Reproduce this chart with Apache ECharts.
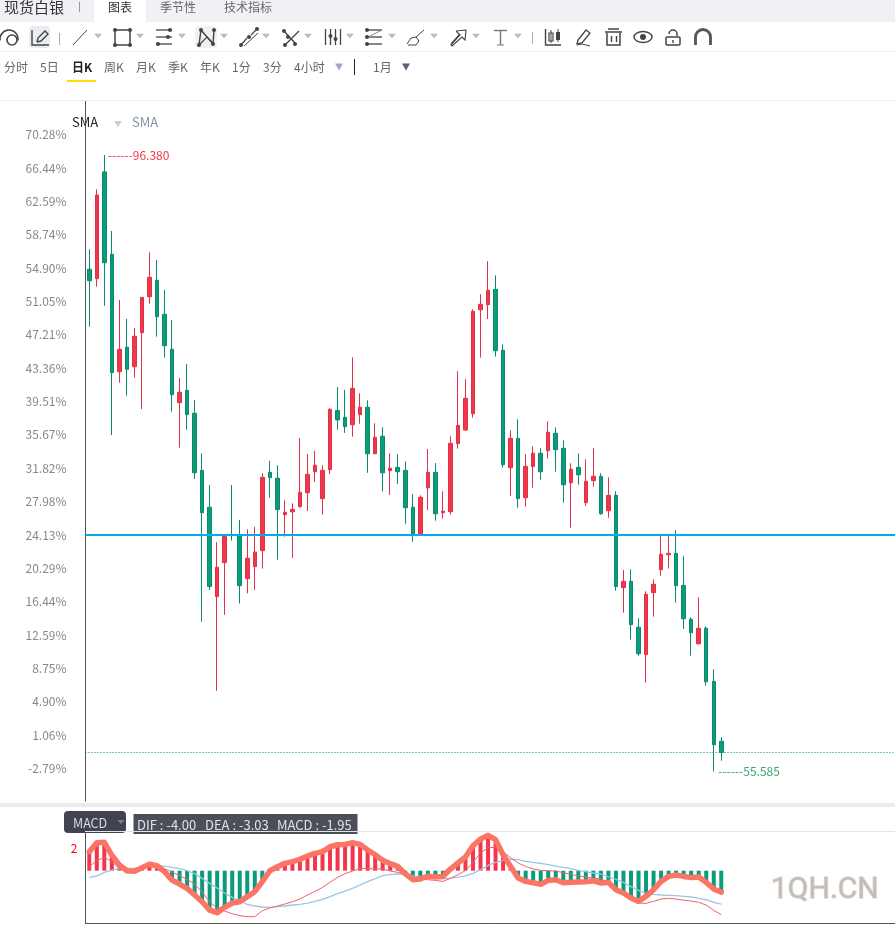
<!DOCTYPE html>
<html>
<head>
<meta charset="utf-8">
<title>现货白银</title>
<style>
  html, body { margin: 0; padding: 0; background: #fff; }
  #chart { width: 895px; height: 926px; }
</style>
<script src="https://cdn.jsdelivr.net/npm/echarts@6/dist/echarts.min.js"></script>
</head>
<body>
<div id="chart"></div>
<script>
// Daily candles: open, close, low, high
const opens = [88.82,88.20,95.26,89.81,82.04,83.66,82.37,84.62,87.00,88.09,85.84,83.52,79.99,80.81,79.29,75.51,73.07,67.16,69.41,71.26,71.18,68.35,69.14,70.20,75.38,74.99,72.58,72.77,73.11,74.03,75.42,73.64,75.56,79.48,79.02,78.53,79.20,79.69,76.61,77.77,75.49,75.71,75.51,73.07,71.24,74.36,75.38,72.71,72.78,77.28,78.18,79.26,86.14,86.47,87.49,83.46,75.69,77.63,73.70,75.76,76.64,76.81,77.97,76.97,74.69,75.71,73.37,74.83,75.12,72.84,73.86,67.75,68.17,65.13,63.32,67.42,68.94,69.93,70.02,67.90,65.66,64.04,65.06,61.55,57.58];
const closes = [88.06,93.73,89.25,81.98,83.52,82.20,84.38,86.96,88.29,85.68,83.76,80.52,80.68,79.20,75.35,72.71,67.82,69.10,71.18,71.21,67.88,69.70,70.10,75.05,75.03,72.91,72.74,72.93,74.06,75.25,75.85,75.51,79.55,78.85,78.40,80.94,79.69,76.61,77.70,75.35,75.65,75.42,73.04,71.24,73.73,75.38,72.64,72.81,77.30,78.49,80.28,86.04,86.50,87.43,83.43,75.89,77.63,73.64,75.78,76.64,75.42,78.03,76.88,74.56,75.58,75.22,74.79,75.12,72.64,73.86,67.82,68.17,65.30,63.38,67.31,67.97,69.96,70.02,67.88,65.69,64.77,65.06,61.52,57.36,56.845];
const lows = [85.02,87.67,86.41,77.85,81.31,80.45,81.65,79.57,86.54,84.36,82.97,79.40,77.01,78.20,74.94,65.50,67.60,60.92,65.95,70.87,66.70,67.37,67.60,69.01,73.70,69.60,71.12,69.72,73.04,72.82,74.76,72.58,75.27,78.20,77.99,77.74,78.60,75.35,76.61,74.13,73.88,74.61,71.98,70.79,71.24,72.89,72.18,72.31,72.58,76.95,78.14,79.00,82.97,85.53,83.04,75.69,73.83,73.04,73.11,74.36,74.89,76.29,75.42,73.37,71.72,74.56,73.17,74.43,72.58,72.38,67.55,66.09,64.31,63.25,61.46,65.83,68.54,69.01,66.76,65.02,63.25,63.98,61.26,55.585,56.30];
const highs = [90.14,94.11,96.38,91.35,86.79,85.53,84.93,86.96,89.94,89.43,87.45,85.46,81.63,82.55,80.17,76.64,74.54,70.76,71.18,74.54,72.23,71.61,71.77,75.32,76.14,75.85,73.53,73.33,77.65,76.60,76.79,75.85,79.62,81.02,80.83,82.99,80.61,80.15,78.63,78.36,76.64,76.58,76.11,73.95,73.86,76.93,75.99,74.13,77.77,82.07,81.54,86.17,87.16,89.35,88.42,83.85,78.16,78.89,76.58,77.10,76.97,78.76,78.36,77.50,75.98,76.64,76.24,76.97,75.32,75.05,74.13,68.92,68.97,65.72,67.51,68.30,71.24,71.24,71.55,69.83,65.79,67.12,65.19,62.35,57.85];

// MACD indicator readings, one per candle
const macdDif = [0.36,0.91,1.21,0.82,0.21,-0.03,0,0.24,0.48,0.42,0.18,-0.12,-0.45,-0.79,-1.21,-1.94,-2.82,-3.42,-3.67,-3.91,-4.09,-4.18,-4.18,-3.64,-3.39,-3.21,-3.03,-2.82,-2.58,-2.21,-1.88,-1.52,-1.06,-0.61,-0.27,-0.03,0.21,0.21,0.15,0.15,-0.03,-0.15,-0.36,-0.67,-0.73,-0.82,-0.88,-0.97,-0.70,-0.36,0,0.76,1.61,2.09,2.12,1.73,1.18,0.70,0.39,0.15,0.03,0,-0.03,-0.18,-0.33,-0.48,-0.58,-0.67,-0.76,-1.06,-1.48,-1.97,-2.64,-2.94,-2.97,-2.79,-2.58,-2.52,-2.58,-2.67,-2.76,-2.88,-3.12,-3.61,-4.00];
const macdDea = [-0.64,-0.48,-0.15,0.06,0.18,0.21,0.24,0.33,0.45,0.45,0.42,0.30,0.18,0,-0.27,-0.70,-1.15,-1.58,-2.03,-2.42,-2.73,-3.06,-3.21,-3.30,-3.33,-3.27,-3.21,-3.12,-3.06,-2.94,-2.79,-2.61,-2.36,-2.09,-1.85,-1.61,-1.30,-1.00,-0.73,-0.45,-0.36,-0.30,-0.30,-0.48,-0.55,-0.61,-0.67,-0.73,-0.67,-0.58,-0.48,-0.24,0.09,0.48,0.76,0.94,1.06,1.00,0.85,0.76,0.67,0.55,0.42,0.30,0.18,0.03,-0.09,-0.21,-0.30,-0.55,-0.79,-1.06,-1.45,-1.79,-2.06,-2.15,-2.21,-2.24,-2.27,-2.33,-2.39,-2.52,-2.64,-2.88,-3.03];
const macdBars = [1.73,2.55,2.58,1.42,0.52,0,-0.06,0.27,0.58,0.45,-0.09,-0.85,-1.21,-1.61,-2.21,-2.82,-3.58,-3.82,-3.33,-2.94,-2.82,-2.36,-1.91,-1.00,0,0.36,0.67,0.82,1.03,1.33,1.58,1.73,2.18,2.36,2.39,2.55,2.39,1.88,1.45,0.94,0.64,0.39,-0.27,-0.82,-0.76,-0.48,-0.58,-0.52,0.15,0.70,1.24,2.27,2.88,3.21,2.82,1.45,0.39,-0.67,-0.97,-1.09,-1.24,-0.88,-0.82,-1.09,-1.06,-1.03,-1.00,-0.91,-1.12,-1.06,-1.73,-2.03,-2.48,-2.79,-2.33,-1.73,-0.97,-0.52,-0.39,-0.52,-0.61,-0.58,-1.06,-1.67,-1.95];

// Price axis ticks are quoted as percent change from the reference price
const referencePrice = 57.387;
const percentTicks = [70.28,66.44,62.59,58.74,54.90,51.05,47.21,43.36,39.51,35.67,31.82,27.98,24.13,20.29,16.44,12.59,8.75,4.90,1.06,-2.79];
const markedPercent = 24.13;
const macdLabelTicks = [2];

const tabLabels = [['图表',108,'#333'],['季节性',160,'#666'],['技术指标',224,'#666']];
const periodLabels = [['分时',4],['5日',40],['日K',72],['周K',104],['月K',136],['季K',168],['年K',200],['1分',232],['3分',263],['4小时',294],['1月',373]];

const FONT = '"Noto Sans CJK SC", "Noto Sans", sans-serif';
const RED = '#f4364a', GREEN = '#0a9c7b';
const toPrice = p => referencePrice * (1 + p / 100);
const toPercent = v => (v / referencePrice - 1) * 100;

const candles = opens.map((o, i) => [o, closes[i], lows[i], highs[i]]);
const sessions = opens.map((_, i) => String(i));
const last = opens.length - 1;
const hiIdx = highs.indexOf(Math.max(...highs));
const loIdx = lows.indexOf(Math.min(...lows));

// Toolbar drawing helpers
const INK = '#444';
const seg = (x1, y1, x2, y2, c = INK, w = 1.3) => ({ type: 'line', z: 10, silent: true, shape: { x1, y1, x2, y2 }, style: { stroke: c, lineWidth: w } });
const poly = (points, c = INK, w = 1.3) => ({ type: 'polyline', z: 10, silent: true, shape: { points }, style: { stroke: c, lineWidth: w, fill: null } });
const dot = (cx, cy, r = 2, c = INK) => ({ type: 'circle', z: 10, silent: true, shape: { cx, cy, r }, style: { fill: c } });
const ring = (cx, cy, r, c = INK, w = 1.5) => ({ type: 'circle', z: 10, silent: true, shape: { cx, cy, r }, style: { stroke: c, lineWidth: w, fill: null } });
const box = (x, y, width, height, fill, r = 0, z = 9) => ({ type: 'rect', z, silent: true, shape: { x, y, width, height, r }, style: { fill } });
const outline = (x, y, width, height, r = 0, c = INK, w = 1.3) => ({ type: 'rect', z: 10, silent: true, shape: { x, y, width, height, r }, style: { stroke: c, lineWidth: w, fill: null } });
const tri = (x, y, w, h, c) => ({ type: 'polygon', z: 10, silent: true, shape: { points: [[x - w / 2, y - h / 2], [x + w / 2, y - h / 2], [x, y + h / 2]] }, style: { fill: c } });
const arc = (cx, cy, r, startAngle, endAngle, c = INK, w = 1.5) => ({ type: 'arc', z: 10, silent: true, shape: { cx, cy, r, startAngle, endAngle, clockwise: true }, style: { stroke: c, lineWidth: w, fill: null } });
const txt = (text, x, y, fill, fontSize = 12, extra = {}) => ({ type: 'text', z: 12, silent: true, x, y, style: Object.assign({ text, fill, fontSize, fontFamily: FONT, textVerticalAlign: 'middle' }, extra) });

const chrome = [
  box(0, 0, 895, 22, '#f0f1f5'),
  box(94, 0, 52, 22, '#fff'),
  txt('现货白银', 4, 7, '#333', 15),
  seg(79.5, 2, 79.5, 12, '#999', 1),
  ...tabLabels.map(t => txt(t[0], t[1], 7, t[2])),
  box(0, 51, 895, 1, '#eeeeee'),
  box(0, 100, 895, 1, '#eeeeee'),

  // Drawing tools
  arc(9, 39, 9, Math.PI * 0.95, Math.PI * 2.05, INK, 1.6), ring(12, 40, 5, INK, 1.6),
  box(29, 26, 21, 22, '#e9ecf3', 4),
  poly([[32, 30], [32, 45], [49, 45]], INK, 1.4), poly([[37, 42], [38, 38], [45, 31], [48, 34], [41, 41], [37, 42]], INK, 1.4),
  seg(59.5, 33, 59.5, 45, '#aaa', 1),
  seg(73, 45, 87, 30, INK, 1),
  outline(115, 30, 15, 15, 0, INK, 1.5), dot(115, 30), dot(130, 30), dot(115, 45), dot(130, 45),
  seg(156, 30, 172, 30), seg(156, 37, 172, 37), seg(156, 44, 172, 44), dot(170, 30), dot(168, 37), dot(158, 44),
  box(195, 26, 22, 22, '#f1f1f1', 4),
  poly([[199, 45], [201, 30], [213, 44], [214, 30]], INK, 1.4), poly([[199, 45], [207, 37], [214, 44]], INK, 1.2), dot(201, 30), dot(214, 30), dot(199, 45), dot(213, 44),
  seg(241, 45, 247, 38), seg(251, 35, 257, 29), seg(244, 46, 258, 33, INK, 1), dot(241, 45), dot(249, 37), dot(257, 29),
  seg(283, 30, 296, 44), seg(285, 45, 299, 31), dot(284, 31), dot(288, 37), dot(285, 45), dot(295, 44),
  seg(325.5, 29, 325.5, 45), seg(330.5, 29, 330.5, 45), seg(335.5, 29, 335.5, 45), seg(340.5, 29, 340.5, 45), dot(330.5, 36), dot(335.5, 39),
  seg(366, 30, 382, 30), seg(366, 37, 382, 37), seg(366, 44, 382, 44), dot(367, 30), dot(367, 37), dot(367, 44), seg(370, 36, 382, 30, '#888', 1),
  poly([[407, 44], [411, 38], [416, 37], [419, 41], [416, 45], [408, 45]], INK, 1), seg(416, 37, 424, 30, INK, 1),
  poly([[451, 44], [460, 34]], INK, 1.2), poly([[456, 31], [466, 30], [465, 40], [462, 37], [452, 46], [451, 45], [460, 35], [456, 31]], INK, 1.1),
  seg(494, 30.5, 507, 30.5, '#777', 1.4), seg(500.5, 30, 500.5, 45, '#777', 1.4), seg(497, 45, 504, 45, '#777', 1),
  seg(532.5, 32, 532.5, 44, '#b9a0c8', 1),

  // Chart and view controls
  poly([[545.5, 29], [545.5, 45], [561, 45]], INK, 1.4),
  outline(549, 33, 4, 8, 0, INK, 1.2), seg(551, 30, 551, 43, INK, 1), box(556, 32, 4, 8, INK, 0, 10), seg(558, 29, 558, 42, INK, 1),
  poly([[578, 40], [586, 30], [590, 33], [582, 43], [577, 44], [578, 40]], INK, 1.3), poly([[577, 45], [582, 44], [586, 45], [590, 46]], INK, 1),
  seg(605, 32, 622, 32, INK, 1.5), seg(608, 29, 619, 29, INK, 1.5), poly([[607, 33], [607, 45], [620, 45], [620, 33]], INK, 1.5), seg(611.5, 36, 611.5, 42, INK, 1.4), seg(616.5, 36, 616.5, 42, INK, 1.4),
  { type: 'ellipse', z: 10, silent: true, shape: { cx: 643, cy: 37, rx: 9, ry: 5.5 }, style: { stroke: INK, lineWidth: 1.4, fill: null } }, dot(643, 37, 3),
  outline(666, 37, 14, 8, 1, INK, 1.5), arc(673, 34, 4, Math.PI, Math.PI * 2, INK, 1.5), seg(677, 34, 677, 36, INK, 1.5), seg(673, 40, 673, 43, INK, 1.4),
  arc(703, 37, 7.5, Math.PI, Math.PI * 2, '#555', 2.8), seg(695.5, 37, 695.5, 45, '#555', 2.8), seg(710.5, 37, 710.5, 45, '#555', 2.8),
  ...[98, 140, 182, 224, 266, 308, 350, 392, 434, 476, 518].map(x => tri(x, 36, 8, 4.5, '#b6b9c6')),

  // Period selector
  ...periodLabels.map(p => txt(p[0], p[1], 67, p[0] === '日K' ? '#222' : '#666', 12, p[0] === '日K' ? { fontWeight: 'bold' } : {})),
  box(67, 80, 29, 2, '#ffdd00'),
  tri(339, 67, 8, 7, '#a3a6c2'),
  seg(354.5, 59, 354.5, 75, '#222', 1),
  tri(406, 67, 8, 7, '#5b6178'),

  // Indicator legend above the price area
  txt('SMA', 72, 122, '#222', 13),
  tri(118, 124, 8, 6, '#c8cde0'),
  txt('SMA', 132, 122, '#8590a6', 13),

  // Divider between price and indicator panels
  box(0, 803, 895, 4, '#ebebeb'),

  // Indicator title and its current readings
  box(64, 811, 62, 22, '#3f4450', 4, 10),
  txt('MACD', 73, 823, '#d6dce6', 12.5),
  tri(121, 822, 7, 4, '#7b7f89'),
  box(133.5, 814, 224, 20, '#4a4f5a', 0, 10),
  txt('DIF : ' + macdDif[last].toFixed(2), 137, 825.5, '#dfe2e8', 13),
  txt('DEA : ' + macdDea[last].toFixed(2), 205, 825.5, '#dfe2e8', 13),
  txt('MACD : ' + macdBars[last].toFixed(2), 277, 825.5, '#dfe2e8', 13),
  Object.assign(box(85, 831, 810, 1, '#e4e4e4'), { z: 11 }),

  // Site mark
  { type: 'text', z: 12, silent: true, x: 771, y: 890, style: { text: '1QH.CN', fill: '#c4bdb5', fontSize: 30, fontFamily: 'Roboto, sans-serif', textVerticalAlign: 'middle', stroke: '#e0dcd7', lineWidth: 1.5 } }
];

const option = {
  animation: false,
  backgroundColor: '#fff',
  textStyle: { fontFamily: FONT },
  grid: [
    { left: 85.5, right: -3.09, top: 101, height: 700, outerBoundsMode: 'none' },
    { left: 85.5, right: -3.09, top: 831, height: 92, outerBoundsMode: 'none' }
  ],
  xAxis: [
    { type: 'category', gridIndex: 0, data: sessions, max: 107, axisLine: { show: false }, axisTick: { show: false }, axisLabel: { show: false }, splitLine: { show: false } },
    { type: 'category', gridIndex: 1, data: sessions, max: 107, position: 'bottom', axisLine: { onZero: false, lineStyle: { color: '#555' } }, axisTick: { show: false }, axisLabel: { show: false }, splitLine: { show: false } }
  ],
  yAxis: [
    {
      type: 'value', gridIndex: 0, min: 53.633, max: 99.953, position: 'left',
      axisLine: { show: true, lineStyle: { color: '#555' } },
      axisTick: { show: false },
      splitLine: { show: false },
      axisLabel: {
        customValues: percentTicks.map(toPrice),
        formatter: v => toPercent(v).toFixed(2) + '%',
        color: '#888', fontSize: 12, margin: 19, padding: [0, 0, 3, 0], fontFamily: FONT
      }
    },
    {
      type: 'value', gridIndex: 1, min: -4.755, max: 3.609, position: 'left',
      axisLine: { show: true, lineStyle: { color: '#555' } },
      axisTick: { show: false },
      splitLine: { show: false },
      axisLabel: { customValues: macdLabelTicks, color: '#f00', fontSize: 12, margin: 8, fontFamily: FONT }
    }
  ],
  series: [
    {
      type: 'candlestick', name: '现货白银', xAxisIndex: 0, yAxisIndex: 0,
      data: candles, barWidth: 4,
      itemStyle: { color: RED, color0: GREEN, borderColor: '#dc3348', borderColor0: '#0b8a6d', borderWidth: 1 },
      markLine: {
        silent: true, symbol: 'none', label: { show: false }, animation: false,
        data: [
          { yAxis: toPrice(markedPercent), lineStyle: { color: '#00aeef', width: 2, type: 'solid' } },
          { yAxis: closes[last], lineStyle: { color: '#0a8f74', width: 1, type: [1, 2] } }
        ]
      },
      markPoint: {
        silent: true, symbol: 'circle', symbolSize: 1, itemStyle: { color: 'rgba(0,0,0,0)' }, animation: false,
        data: [
          { coord: [hiIdx, highs[hiIdx]], value: highs[hiIdx], label: { show: true, position: 'right', distance: 3, color: RED, fontSize: 12, fontFamily: FONT, formatter: p => '------' + p.value.toFixed(3) } },
          { coord: [loIdx, lows[loIdx]], value: lows[loIdx], label: { show: true, position: 'right', distance: 4, color: '#35a86c', fontSize: 12, fontFamily: FONT, formatter: p => '------' + p.value.toFixed(3) } }
        ]
      }
    },
    {
      type: 'bar', name: 'MACD', xAxisIndex: 1, yAxisIndex: 1, data: macdBars, barWidth: 4,
      itemStyle: { color: p => (p.value >= 0 ? RED : GREEN) }
    },
    {
      type: 'line', name: 'DEA', xAxisIndex: 1, yAxisIndex: 1, data: macdDea, symbol: 'none',
      lineStyle: { color: '#9cc4e6', width: 1.3 }
    },
    {
      type: 'line', name: 'DIF', xAxisIndex: 1, yAxisIndex: 1, data: macdDif, symbol: 'none',
      lineStyle: { color: '#f2606c', width: 1 }
    },
    {
      type: 'line', name: 'MACD', xAxisIndex: 1, yAxisIndex: 1, data: macdBars, symbol: 'none',
      lineStyle: { color: '#fb7466', width: 5.5, join: 'round', cap: 'round' }
    }
  ],
  graphic: { elements: chrome }
};

echarts.init(document.getElementById('chart')).setOption(option);
</script>
</body>
</html>
